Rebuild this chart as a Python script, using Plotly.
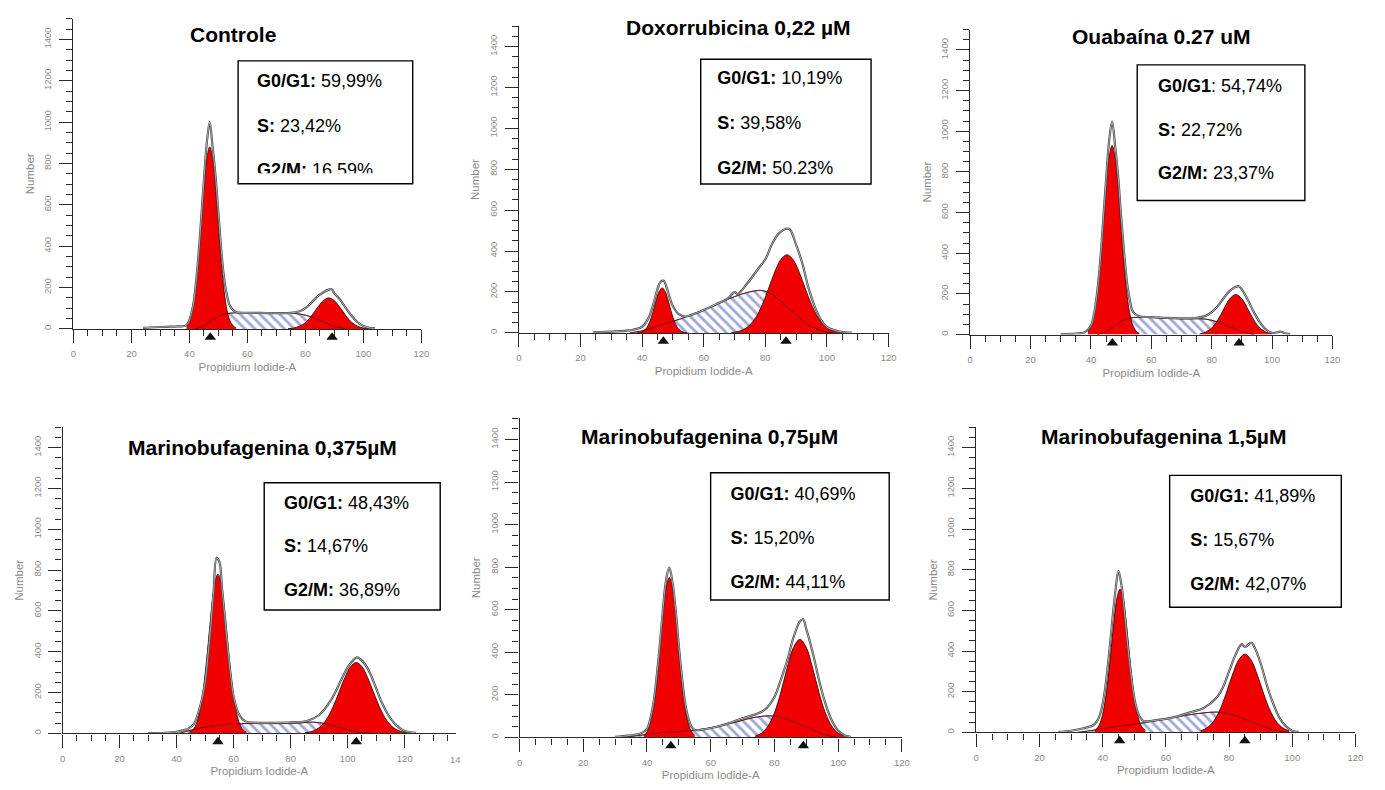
import plotly.graph_objects as go

W, H = 1385, 790

# ---------------- data ----------------
TITLES = ["Controle", "Doxorrubicina 0,22 µM", "Ouabaína 0.27 uM",
          "Marinobufagenina 0,375µM", "Marinobufagenina 0,75µM", "Marinobufagenina 1,5µM"]

G0G1_PCT = ["59,99%", "10,19%", "54,74%", "48,43%", "40,69%", "41,89%"]
S_PCT = ["23,42%", "39,58%", "22,72%", "14,67%", "15,20%", "15,67%"]
G2M_PCT = ["16,59%", "50.23%", "23,37%", "36,89%", "44,11%", "42,07%"]

X_TICK_MAX = [120, 120, 120, 138, 120, 120]

# Controle
ctrl_hist_x = [24, 28, 32, 36, 39, 41, 42, 43, 44, 45, 46, 47, 48, 49, 50, 51, 52, 53, 54, 56, 60, 65, 70, 75,
               78, 80, 82, 84, 86, 88, 89, 90, 92, 94, 96, 98, 100, 102, 104]
ctrl_hist_y = [5, 8, 10, 12, 18, 95, 190, 335, 520, 720, 900, 1000, 880, 740, 560, 380, 240, 160, 110, 82, 78, 77,
               76, 77, 85, 100, 125, 155, 175, 190, 192, 172, 140, 100, 62, 32, 14, 5, 2]
ctrl_g1_x = [39, 40, 41, 42, 43, 44, 45, 46, 47, 48, 49, 50, 51, 52, 53, 54, 55, 56]
ctrl_g1_y = [15, 39, 89, 179, 317, 495, 682, 825, 880, 825, 682, 495, 317, 179, 89, 39, 15, 5]
ctrl_s_x = [42, 45, 48, 51, 54, 58, 62, 66, 70, 74, 78, 82, 86, 90, 94]
ctrl_s_y = [0, 15, 45, 68, 76, 78, 78, 77, 76, 76, 72, 58, 35, 12, 0]
ctrl_g2_x = [74, 76, 78, 80, 82, 84, 86, 88, 90, 92, 94, 96, 98, 100, 102]
ctrl_g2_y = [1, 4, 13, 30, 61, 100, 134, 150, 136, 102, 63, 31, 13, 4, 1]
ctrl_peaks = [47.2, 89.2]

# Doxorrubicina 0,22 µM
dox_hist_x = [24, 30, 36, 40, 42, 44, 45, 46, 47, 48, 49, 50, 52, 54, 56, 60, 64, 68, 70, 71, 74, 78, 80, 82,
              84, 86, 87, 88, 90, 92, 94, 96, 98, 100, 102, 104, 106, 108]
dox_hist_y = [3, 6, 12, 30, 70, 160, 215, 250, 255, 220, 170, 130, 90, 80, 88, 112, 140, 170, 200, 190, 240, 320,
              360, 430, 480, 505, 510, 505, 430, 340, 220, 130, 65, 28, 15, 6, 3, 1]
dox_g1_x = [38.5, 39.5, 40.5, 41.5, 42.5, 43.5, 44.5, 45.5, 46.5, 47.5, 48.5, 49.5, 50.5, 51.5, 52.5, 53.5, 54.5]
dox_g1_y = [1, 3, 10, 25, 55, 101, 156, 202, 220, 202, 156, 101, 55, 25, 10, 3, 1]
dox_s_x = [36, 40, 44, 48, 52, 56, 60, 64, 68, 72, 76, 79, 82, 86, 90, 94, 98, 102]
dox_s_y = [0, 10, 28, 48, 66, 88, 112, 138, 165, 188, 204, 207, 190, 140, 86, 40, 12, 0]
dox_g2_x = [69, 71, 73, 75, 77, 79, 81, 83, 85, 87, 89, 91, 93, 95, 97, 99, 101, 103, 105]
dox_g2_y = [2, 6, 17, 39, 78, 138, 215, 296, 358, 382, 358, 296, 215, 138, 78, 39, 17, 6, 2]
dox_peaks = [46.9, 86.7]

# Ouabaína 0.27 uM
oua_hist_x = [30, 35, 38, 40, 41, 42, 43, 44, 45, 46, 47, 48, 49, 50, 51, 52, 53, 54, 56, 60, 65, 70, 75, 78,
              80, 82, 84, 86, 88, 89, 90, 92, 94, 96, 98, 100, 102, 103, 104, 106]
oua_hist_y = [2, 5, 12, 45, 100, 200, 350, 550, 760, 950, 1048, 930, 780, 580, 400, 250, 160, 110, 90, 86, 82,
              80, 82, 92, 110, 140, 180, 215, 235, 238, 222, 170, 110, 60, 25, 8, 12, 14, 8, 2]
oua_g1_x = [39, 40, 41, 42, 43, 44, 45, 46, 47, 48, 49, 50, 51, 52, 53, 54, 55, 56]
oua_g1_y = [16, 41, 94, 189, 335, 524, 721, 872, 930, 872, 721, 524, 335, 189, 94, 41, 16, 5]
oua_s_x = [42, 45, 48, 51, 54, 58, 62, 66, 70, 74, 78, 82, 86, 90, 94]
oua_s_y = [0, 15, 45, 72, 84, 85, 83, 80, 78, 78, 76, 62, 38, 14, 0]
oua_g2_x = [76, 78, 80, 82, 84, 86, 88, 90, 92, 94, 96, 98, 100]
oua_g2_y = [3, 12, 32, 71, 125, 176, 197, 176, 125, 71, 32, 12, 3]
oua_peaks = [47.1, 89.1]

# Marinobufagenina 0,375µM
mb1_hist_x = [30, 36, 40, 42, 44, 46, 48, 50, 51, 52, 53, 54, 55, 56, 57, 58, 59, 60, 62, 64, 68, 74, 80, 86,
              90, 94, 98, 100, 102, 103, 104, 106, 108, 110, 112, 114, 116, 118, 120, 124]
mb1_hist_y = [1, 3, 8, 14, 22, 45, 120, 250, 380, 530, 700, 860, 840, 700, 560, 410, 280, 180, 90, 60, 52, 52,
              54, 62, 90, 160, 270, 325, 360, 372, 368, 340, 290, 220, 150, 95, 55, 28, 12, 2]
mb1_g1_x = [44.5, 45.5, 46.5, 47.5, 48.5, 49.5, 50.5, 51.5, 52.5, 53.5, 54.5, 55.5, 56.5, 57.5, 58.5, 59.5,
            60.5, 61.5, 62.5, 63.5, 64.5]
mb1_g1_y = [6, 15, 34, 71, 134, 230, 357, 502, 642, 743, 780, 743, 642, 502, 357, 230, 134, 71, 34, 15, 6]
mb1_s_x = [41, 44, 48, 52, 56, 60, 64, 70, 76, 82, 88, 92, 96, 100, 104, 108]
mb1_s_y = [0, 12, 25, 35, 42, 46, 48, 48, 48, 50, 55, 48, 34, 18, 6, 0]
mb1_g2_x = [85, 87, 89, 91, 93, 95, 97, 99, 101, 103, 105, 107, 109, 111, 113, 115, 117, 119, 121]
mb1_g2_y = [3, 8, 19, 41, 78, 134, 203, 273, 327, 347, 327, 273, 203, 134, 78, 41, 19, 8, 3]
mb1_peaks = [54.5, 103.0]

# Marinobufagenina 0,75µM
mb2_hist_x = [30, 34, 38, 40, 41, 42, 43, 44, 45, 46, 47, 48, 49, 50, 51, 52, 53, 54, 55, 58, 62, 66, 70, 74,
              77, 80, 82, 84, 86, 88, 89, 90, 92, 94, 96, 98, 100, 102, 104]
mb2_hist_y = [2, 8, 18, 40, 85, 160, 280, 430, 600, 740, 798, 730, 600, 430, 280, 160, 90, 50, 35, 38, 50, 68,
              90, 108, 130, 190, 270, 360, 470, 545, 555, 510, 400, 270, 160, 80, 32, 10, 3]
mb2_g1_x = [39, 40, 41, 42, 43, 44, 45, 46, 47, 48, 49, 50, 51, 52, 53, 54, 55]
mb2_g1_y = [9, 26, 64, 135, 251, 405, 571, 701, 751, 701, 571, 405, 251, 135, 64, 26, 9]
mb2_s_x = [33, 38, 43, 48, 53, 58, 63, 68, 73, 77, 80, 84, 88, 92, 96, 100]
mb2_s_y = [0, 10, 20, 26, 30, 40, 55, 72, 92, 100, 100, 85, 62, 36, 12, 0]
mb2_g2_x = [74, 76, 78, 80, 82, 84, 86, 88, 90, 92, 94, 96, 98, 100, 102]
mb2_g2_y = [6, 20, 53, 115, 211, 326, 423, 461, 423, 326, 211, 115, 53, 20, 6]
mb2_peaks = [47.5, 89.1]

# Marinobufagenina 1,5µM
mb3_hist_x = [26, 30, 34, 37, 38, 39, 40, 41, 42, 43, 44, 45, 46, 47, 48, 49, 50, 51, 52, 53, 56, 60, 64, 68,
              72, 76, 78, 80, 82, 84, 85, 86, 87, 88, 90, 92, 94, 96, 98, 100, 102]
mb3_hist_y = [2, 8, 20, 35, 50, 80, 140, 240, 380, 540, 690, 794, 720, 580, 420, 280, 170, 105, 70, 55, 58, 66,
              80, 100, 120, 170, 220, 300, 380, 434, 420, 430, 442, 420, 340, 230, 140, 70, 30, 8, 2]
mb3_g1_x = [37.5, 38.5, 39.5, 40.5, 41.5, 42.5, 43.5, 44.5, 45.5, 46.5, 47.5, 48.5, 49.5, 50.5, 51.5, 52.5, 53.5]
mb3_g1_y = [9, 25, 60, 127, 235, 379, 535, 658, 704, 658, 535, 379, 235, 127, 60, 25, 9]
mb3_s_x = [32, 36, 40, 44, 48, 52, 56, 60, 64, 68, 72, 76, 80, 84, 88, 92, 96, 99]
mb3_s_y = [0, 8, 18, 28, 36, 45, 55, 66, 78, 88, 96, 100, 92, 72, 46, 22, 6, 0]
mb3_g2_x = [71, 73, 75, 77, 79, 81, 83, 85, 87, 89, 91, 93, 95, 97, 99]
mb3_g2_y = [8, 22, 52, 107, 188, 280, 355, 385, 355, 280, 188, 107, 52, 22, 8]
mb3_peaks = [45.4, 85.0]

SERIES = [
    (ctrl_hist_x, ctrl_hist_y, ctrl_g1_x, ctrl_g1_y, ctrl_s_x, ctrl_s_y, ctrl_g2_x, ctrl_g2_y, ctrl_peaks),
    (dox_hist_x, dox_hist_y, dox_g1_x, dox_g1_y, dox_s_x, dox_s_y, dox_g2_x, dox_g2_y, dox_peaks),
    (oua_hist_x, oua_hist_y, oua_g1_x, oua_g1_y, oua_s_x, oua_s_y, oua_g2_x, oua_g2_y, oua_peaks),
    (mb1_hist_x, mb1_hist_y, mb1_g1_x, mb1_g1_y, mb1_s_x, mb1_s_y, mb1_g2_x, mb1_g2_y, mb1_peaks),
    (mb2_hist_x, mb2_hist_y, mb2_g1_x, mb2_g1_y, mb2_s_x, mb2_s_y, mb2_g2_x, mb2_g2_y, mb2_peaks),
    (mb3_hist_x, mb3_hist_y, mb3_g1_x, mb3_g1_y, mb3_s_x, mb3_s_y, mb3_g2_x, mb3_g2_y, mb3_peaks),
]

# ---------------- layout geometry (pixels) ----------------
# plot area: left, right, bottom, top
AREAS = [(71, 421.7, 329.3, 18.8), (520, 892.7, 333.3, 26.2), (975, 1340, 335, 29.7),
         (60, 456.7, 734.3, 427.8), (520.7, 906, 738.3, 418.8), (981, 1363.3, 733.3, 428)]
TITLE_POS = [(232, 35), (741, 28), (1168, 37), (262, 448), (712, 437), (1170, 437)]
# box: left, top, right, bottom
BOXES = [(237, 61, 413, 184), (703.3, 59.3, 875, 184.3), (1143.3, 65, 1312.3, 200.7),
         (263.3, 483.3, 440.7, 610.7), (713.3, 473.3, 893.3, 600.7), (1176, 476, 1349, 608)]
TEXT_LEFT = [256, 720, 1164.3, 283.3, 733.3, 1196.7]
TEXT_LINES = [(83, 128, 172), (80, 125, 170), (87.7, 131.7, 175), (505, 548.3, 592.3),
              (496, 540, 584.3), (498.3, 541.7, 586.7)]
TEXT_CLIP = [173.5, None, None, None, None, None]
MARK_STRIP = 18  # height of the strip below each x axis that holds the peak markers

RED = "#f00000"
GRAY_TXT = "#8a8a8a"
AX = "#2a2a2a"
YMAX = 1500

fig = go.Figure()


def px_x(v):
    return v / W


def px_y(v):
    return 1 - v / H


for i in range(6):
    hx, hy, g1x, g1y, sx, sy, g2x, g2y, peaks = SERIES[i]
    n = i + 1
    xa, ya = f"x{n}", f"y{n}"
    common = dict(xaxis=xa, yaxis=ya, showlegend=False, hoverinfo="skip")

    # S phase (hatched)
    fig.add_trace(go.Scatter(x=sx, y=sy, mode="lines", fill="tozeroy", fillcolor="white",
                             fillpattern=dict(shape="\\", fgcolor="#3f4fb0", bgcolor="white",
                                              size=7, solidity=0.4),
                             line=dict(color="#333", width=0.8, shape="spline"), **common))
    # G0/G1 and G2/M (red)
    for gx, gy in ((g1x, g1y), (g2x, g2y)):
        fig.add_trace(go.Scatter(x=gx, y=gy, mode="lines", fill="tozeroy", fillcolor=RED,
                                 line=dict(color="#4a0000", width=0.9, shape="spline"), **common))
    # S curve seen through the red
    fig.add_trace(go.Scatter(x=sx, y=sy, mode="lines",
                             line=dict(color="#500000", width=0.7, shape="spline"), **common))
    # measured histogram (double outline)
    fig.add_trace(go.Scatter(x=hx, y=hy, mode="lines",
                             line=dict(color="#454545", width=2.2, shape="spline"), **common))
    fig.add_trace(go.Scatter(x=hx, y=hy, mode="lines",
                             line=dict(color="#f2f2f2", width=0.6, shape="spline"), **common))

    x0, x1, yb, yt = AREAS[i]
    tickfont = dict(family="Arial", size=9.5, color=GRAY_TXT)
    titlefont = dict(family="Arial", size=11.5, color=GRAY_TXT)
    fig.layout[f"xaxis{n}"] = dict(
        domain=[px_x(x0), px_x(x1)], range=[0, X_TICK_MAX[i]], anchor=ya,
        showline=True, linecolor=AX, linewidth=1.3, zeroline=False, showgrid=False,
        ticks="outside", ticklen=13, tickwidth=1, tickcolor=AX, tick0=0, dtick=20,
        minor=dict(dtick=5, tick0=0, ticks="outside", ticklen=6, tickwidth=1, tickcolor=AX, showgrid=False),
        tickfont=tickfont, ticklabelstandoff=3,
        title=dict(text="Propidium Iodide-A", font=titlefont, standoff=4), fixedrange=True)
    fig.layout[f"yaxis{n}"] = dict(
        domain=[px_y(yb), px_y(yt)], range=[0, YMAX], anchor=xa,
        showline=True, linecolor=AX, linewidth=1.3, zeroline=False, showgrid=False,
        ticks="outside", ticklen=13, tickwidth=1, tickcolor=AX, tick0=0, dtick=200,
        minor=dict(dtick=50, tick0=0, ticks="outside", ticklen=6, tickwidth=1, tickcolor=AX, showgrid=False),
        tickfont=tickfont, tickangle=-90, ticklabelstandoff=4,
        title=dict(text="Number", font=titlefont, standoff=5), fixedrange=True)

    # peak markers in a thin strip just under the x axis
    m = 12 + n
    fig.layout[f"yaxis{m}"] = dict(domain=[px_y(yb + MARK_STRIP), px_y(yb)], range=[MARK_STRIP, 0],
                                   visible=False, anchor=xa, fixedrange=True)
    fig.add_trace(go.Scatter(x=peaks, y=[8.5] * len(peaks), mode="markers", cliponaxis=False,
                             marker=dict(symbol="triangle-up", size=10, color="#111"),
                             xaxis=xa, yaxis=f"y{m}", showlegend=False, hoverinfo="skip"))

    # panel title
    tx, ty = TITLE_POS[i]
    fig.add_annotation(x=px_x(tx), y=px_y(ty), xref="paper", yref="paper", showarrow=False,
                       text=f"<b>{TITLES[i]}</b>", xanchor="center", yanchor="middle",
                       font=dict(family="Arial", size=21, color="black"))

    # percentage box
    bl, bt, br, bb = BOXES[i]
    fig.add_shape(type="rect", xref="paper", yref="paper", layer="above",
                  x0=px_x(bl), x1=px_x(br), y0=px_y(bb), y1=px_y(bt),
                  line=dict(color="black", width=1.4), fillcolor="rgba(0,0,0,0)")
    k = 6 + n
    clip_b = TEXT_CLIP[i] if TEXT_CLIP[i] is not None else bb
    fig.layout[f"xaxis{k}"] = dict(domain=[px_x(bl), px_x(br)], range=[bl, br], visible=False,
                                   anchor=f"y{k}", fixedrange=True)
    fig.layout[f"yaxis{k}"] = dict(domain=[px_y(clip_b), px_y(bt)], range=[clip_b, bt], visible=False,
                                   anchor=f"x{k}", fixedrange=True)
    g1_label = "<b>G0/G1</b>: " if i == 2 else "<b>G0/G1:</b> "
    texts = [g1_label + G0G1_PCT[i], "<b>S:</b> " + S_PCT[i], "<b>G2/M:</b> " + G2M_PCT[i]]
    fig.add_trace(go.Scatter(x=[TEXT_LEFT[i]] * 3, y=list(TEXT_LINES[i]), mode="text", text=texts,
                             textposition="middle right", cliponaxis=True,
                             textfont=dict(family="Arial", size=18, color="black"),
                             xaxis=f"x{k}", yaxis=f"y{k}", showlegend=False, hoverinfo="skip"))

# truncated "140" label at the edge of the fourth panel
fig.add_annotation(x=px_x(449), y=px_y(760), xref="paper", yref="paper", showarrow=False,
                   text="14", xanchor="left", yanchor="middle",
                   font=dict(family="Arial", size=9.5, color=GRAY_TXT))

fig.update_layout(width=W, height=H, margin=dict(l=0, r=0, t=0, b=0),
                  paper_bgcolor="white", plot_bgcolor="rgba(0,0,0,0)", showlegend=False)

fig.write_html("out.html")
